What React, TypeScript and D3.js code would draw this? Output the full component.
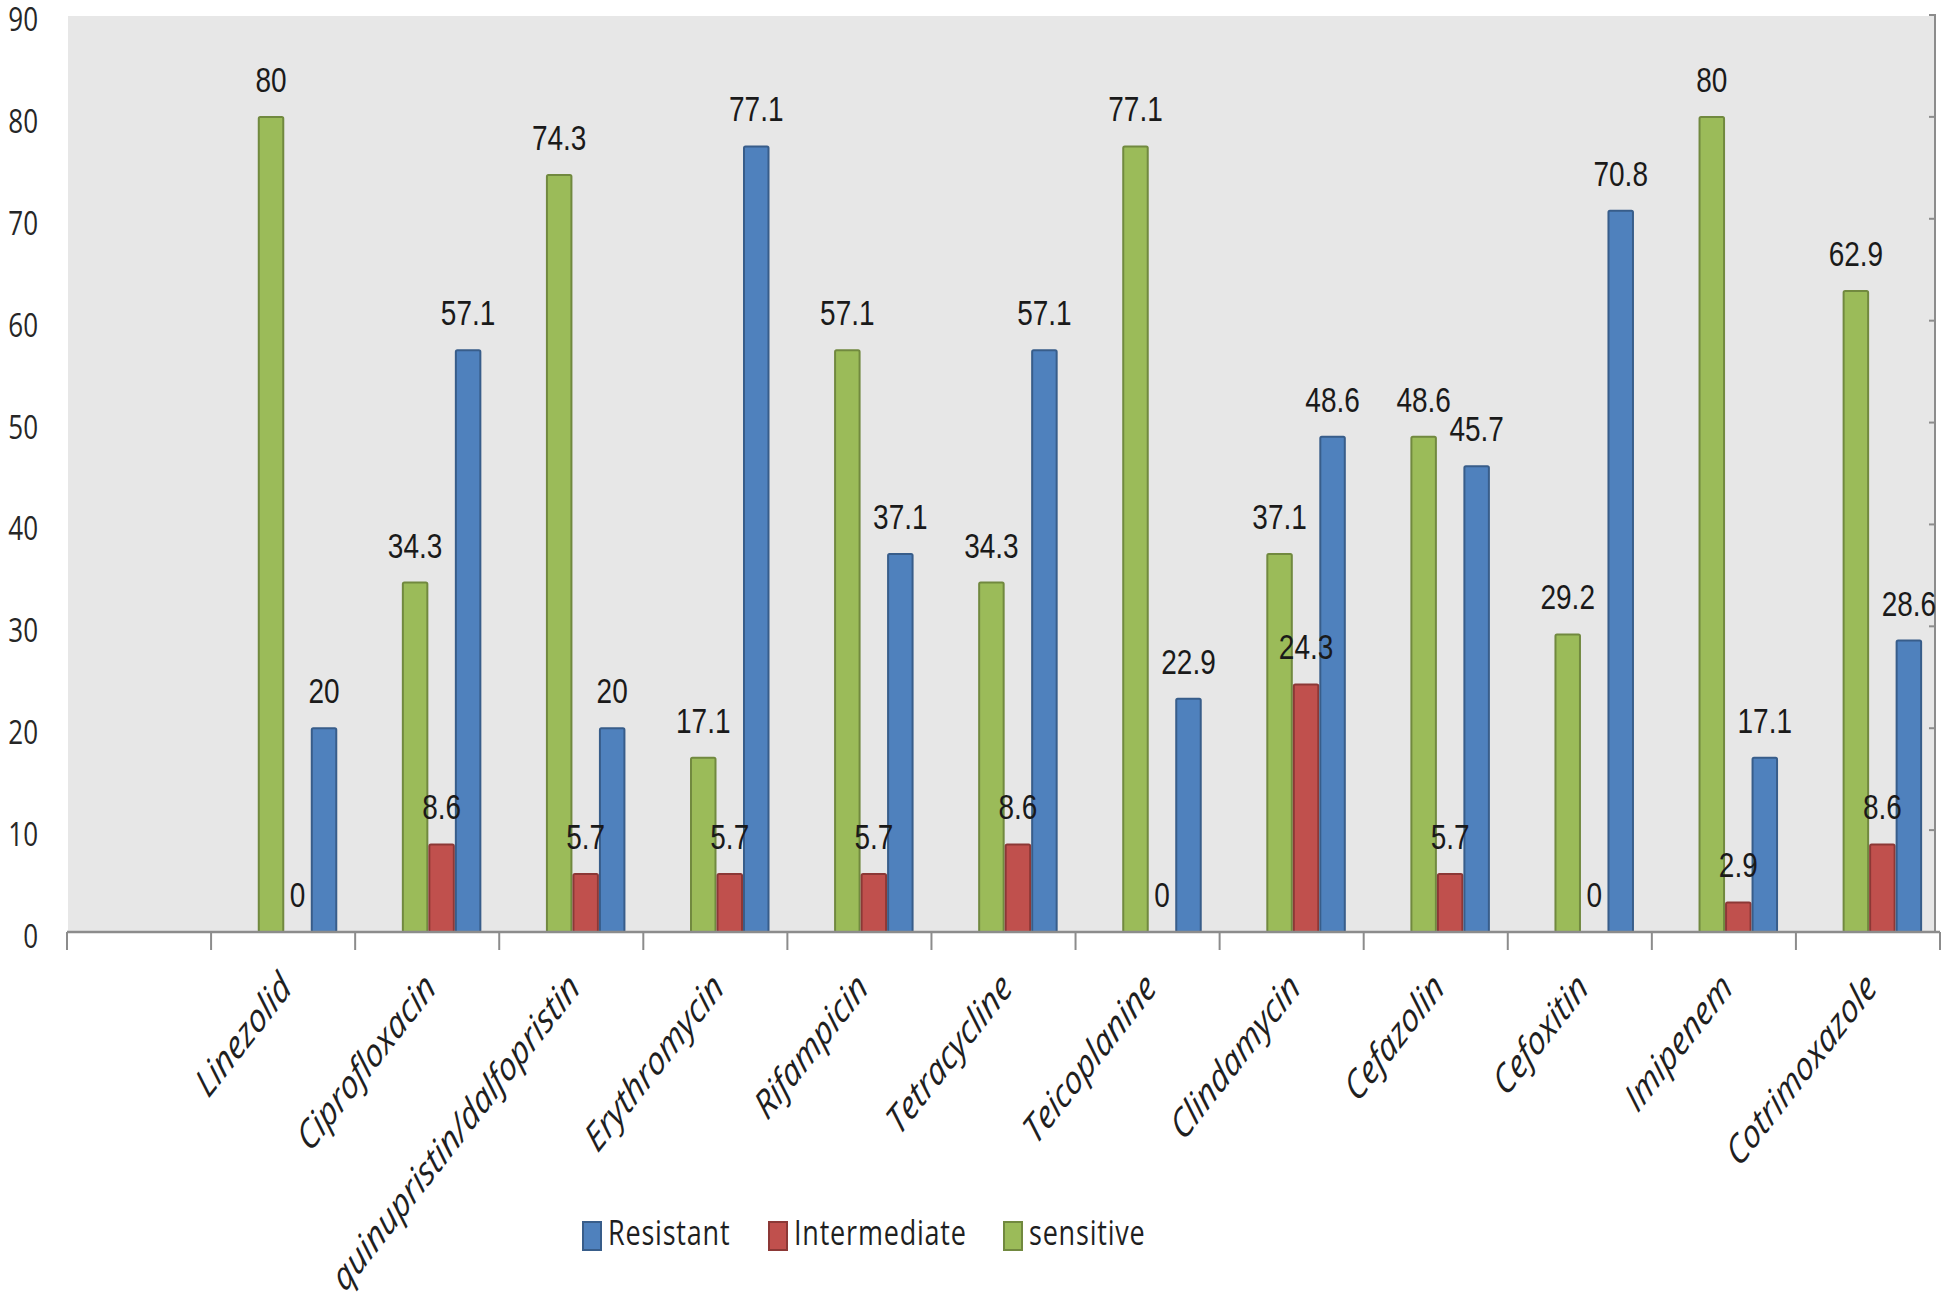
import React from "react";
import * as d3 from "d3";

const categories = [
  "",
  "Linezolid",
  "Ciprofloxacin",
  "quinupristin/dalfopristin",
  "Erythromycin",
  "Rifampicin",
  "Tetracycline",
  "Teicoplanine",
  "Clindamycin",
  "Cefazolin",
  "Cefoxitin",
  "Imipenem",
  "Cotrimoxazole",
];

const sensitive = [null, 80, 34.3, 74.3, 17.1, 57.1, 34.3, 77.1, 37.1, 48.6, 29.2, 80, 62.9];
const intermediate = [null, 0, 8.6, 5.7, 5.7, 5.7, 8.6, 0, 24.3, 5.7, 0, 2.9, 8.6];
const resistant = [null, 20, 57.1, 20, 77.1, 37.1, 57.1, 22.9, 48.6, 45.7, 70.8, 17.1, 28.6];

const yTicks = [0, 10, 20, 30, 40, 50, 60, 70, 80, 90];

const seriesKeys = ["sensitive", "intermediate", "resistant"];
const seriesData: Record<string, (number | null)[]> = { sensitive, intermediate, resistant };
const fills: Record<string, string> = { sensitive: "#9bbb59", intermediate: "#c0504d", resistant: "#4f81bd" };
const strokes: Record<string, string> = { sensitive: "#71893f", intermediate: "#8c3836", resistant: "#385d8a" };

const legendItems = [
  { key: "resistant", label: "Resistant" },
  { key: "intermediate", label: "Intermediate" },
  { key: "sensitive", label: "sensitive" },
];

const W = 1944;
const H = 1306;
const SY = 1.28;

export default function App() {
  const x0 = 67;
  const x1 = 1940;
  const yBase = 932;
  const yTop = 15;
  const x = d3.scaleBand<string>().domain(categories).range([x0, x1]).padding(0);
  const step = x.step();
  const bw = 26.5;
  const xs = d3.scaleBand<string>().domain(seriesKeys).range([0, bw * 3]).padding(0);
  const y = d3.scaleLinear().domain([0, 90]).range([yBase, yTop]);
  const gc = (c: string) => (x(c) as number) + step * 0.6;

  const txt = (
    tx: number,
    ty: number,
    s: string,
    opts: {
      size: number;
      family: string;
      anchor?: string;
      rotate?: number;
      italic?: boolean;
      fill?: string;
      spacing?: number;
    }
  ) => (
    <g transform={`translate(${tx},${ty}) scale(1,${SY})${opts.rotate ? ` rotate(${opts.rotate})` : ""}`}>
      <text
        x={0}
        y={0}
        fontSize={opts.size}
        fontFamily={opts.family}
        textAnchor={opts.anchor || "middle"}
        fontStyle={opts.italic ? "italic" : "normal"}
        fill={opts.fill || "#1a1a1a"}
        letterSpacing={opts.spacing || 0}
      >
        {s}
      </text>
    </g>
  );

  return (
    <svg width={W} height={H} style={{ display: "block", position: "absolute", left: 0, top: 0 }}>
      <rect x={0} y={0} width={W} height={H} fill="#ffffff" />
      {/* plot background */}
      <rect x={x0 + 1} y={yTop + 1} width={1935 - x0 - 1} height={yBase - yTop - 1} fill="#e7e7e7" />

      {/* right axis line and ticks */}
      <line x1={1935} x2={1935} y1={yTop - 1} y2={yBase} stroke="#8c8c8c" strokeWidth={2} />
      {yTicks.map((t) => (
        <line key={"rt" + t} x1={1929} x2={1935} y1={y(t)} y2={y(t)} stroke="#8c8c8c" strokeWidth={2} />
      ))}

      {/* y labels */}
      {yTicks.map((t) => (
        <React.Fragment key={"yl" + t}>
          {txt(38, y(t) + 16, String(t), { size: 26, family: "'Open Sans', sans-serif", anchor: "end", fill: "#262626" })}
        </React.Fragment>
      ))}

      {/* bars */}
      {categories.map((c, i) =>
        seriesKeys.map((k) => {
          const v = seriesData[k][i];
          if (v === null || v === undefined) return null;
          const bx = gc(c) - 1.5 * bw + (xs(k) as number);
          return (
            <g key={c + k}>
              {v > 0 && (
                <rect
                  x={bx + 1}
                  y={y(v)}
                  width={xs.bandwidth() - 2}
                  height={yBase - y(v)}
                  fill={fills[k]}
                  stroke={strokes[k]}
                  strokeWidth={2}
                  rx={1.5}
                />
              )}
            </g>
          );
        })
      )}

      {/* x axis */}
      <line x1={x0} x2={x1} y1={yBase} y2={yBase} stroke="#8c8c8c" strokeWidth={2.5} />
      {d3.range(categories.length + 1).map((i) => (
        <line
          key={"xt" + i}
          x1={x0 + i * step}
          x2={x0 + i * step}
          y1={yBase}
          y2={yBase + 18}
          stroke="#8c8c8c"
          strokeWidth={2}
        />
      ))}

      {/* value labels */}
      {categories.map((c, i) =>
        seriesKeys.map((k) => {
          const v = seriesData[k][i];
          if (v === null || v === undefined) return null;
          const cx = gc(c) - 1.5 * bw + (xs(k) as number) + bw / 2;
          return (
            <React.Fragment key={"vl" + c + k}>
              {txt(cx, y(v) - 25, String(v), { size: 28, family: "'Liberation Sans', Arial, sans-serif" })}
            </React.Fragment>
          );
        })
      )}

      {/* category labels */}
      {categories.map((c) =>
        c ? (
          <React.Fragment key={"cl" + c}>
            {txt(gc(c) - 4, 990, c, {
              size: 31,
              family: "'Open Sans', sans-serif",
              anchor: "end",
              rotate: -45,
              italic: true,
              fill: "#1f1f1f",
            })}
          </React.Fragment>
        ) : null
      )}

      {/* legend */}
      {(() => {
        const pos = [583, 769, 1004];
        return legendItems.map((it, i) => (
          <g key={"lg" + it.key}>
            <rect x={pos[i]} y={1222} width={18} height={28} fill={fills[it.key]} stroke={strokes[it.key]} strokeWidth={2} />
            {txt(pos[i] + 25, 1245, it.label, {
              size: 27,
              family: "'Open Sans', sans-serif",
              anchor: "start",
              fill: "#1f1f1f",
              spacing: 0.8,
            })}
          </g>
        ));
      })()}
    </svg>
  );
}
